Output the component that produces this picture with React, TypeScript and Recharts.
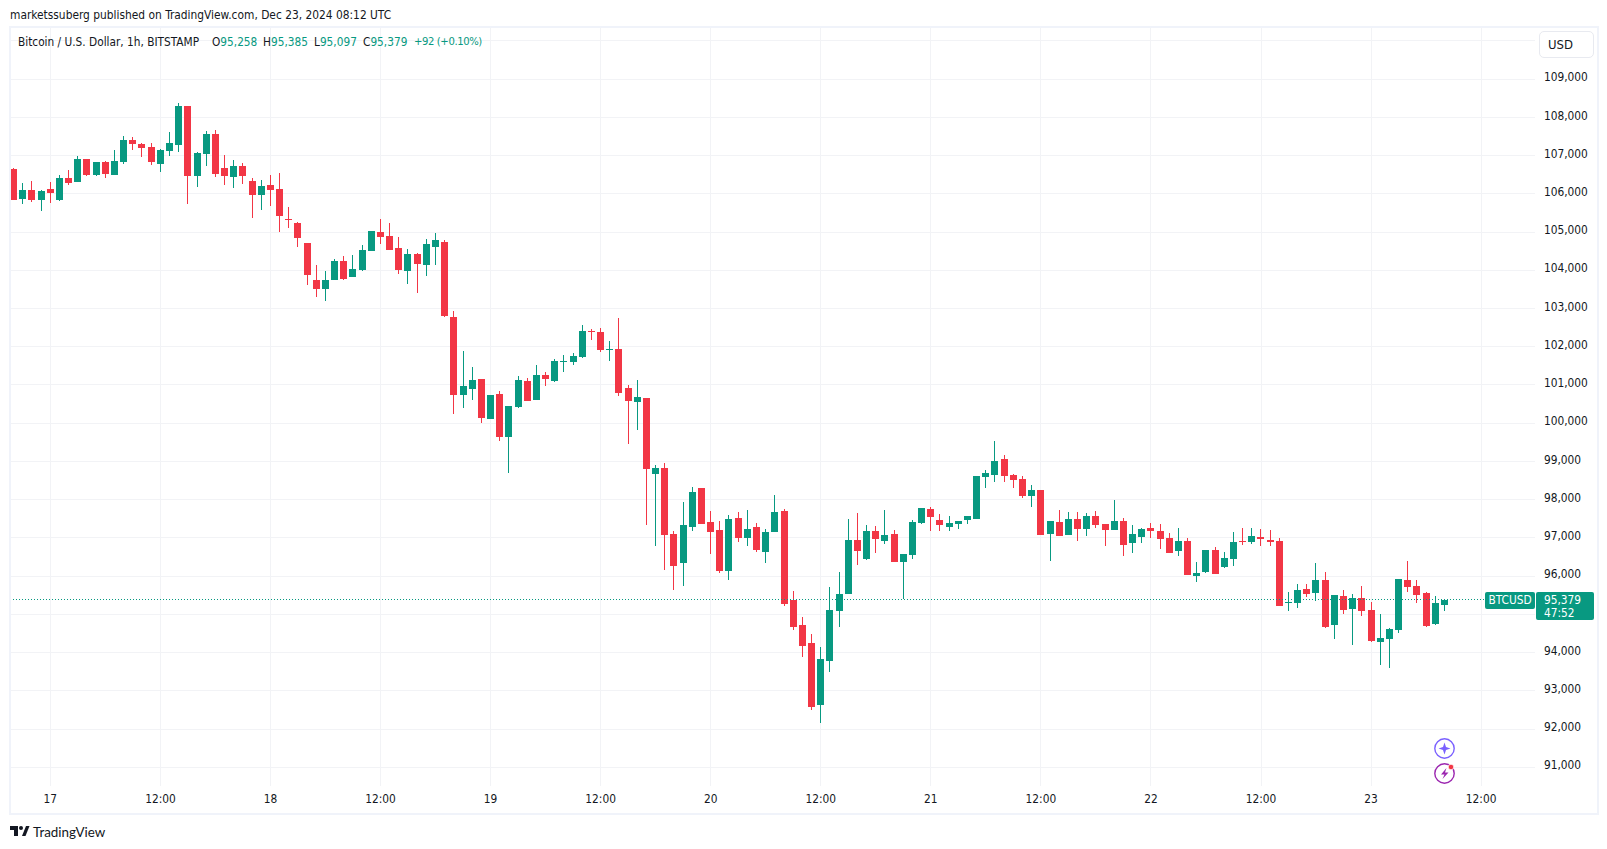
import { BarChart, Bar, XAxis, YAxis, CartesianGrid, ReferenceLine } from 'recharts'

const opens = [
  106650, 105864, 106099, 105837, 106125, 105837, 106413, 106308, 106910, 106491,
  106832, 106491, 106832, 107407, 107302, 107224, 106779, 107119, 107276, 108296,
  106465, 107041, 107564, 106675, 106439, 106727, 106334, 105968, 106230, 106125,
  105340, 105240, 104721, 103753, 103518, 103753, 104250, 103832, 104015, 104512,
  105009, 104904, 104590, 103988, 104433, 104145, 104616, 104747, 102785, 100745,
  100902, 101163, 100117, 100771, 99640, 100425, 101099, 100602, 101256, 101099,
  101596, 101596, 101727, 102407, 102381, 101910, 101936, 100916, 100550, 100654,
  98666, 98823, 97097, 96338, 97280, 98300, 97410, 97201, 96129, 97515,
  96992, 97280, 96622, 97145, 97695, 95367, 94713, 94242, 92620, 93771,
  95079, 95524, 96936, 96439, 97172, 96910, 97093, 96361, 96544, 97381,
  97747, 97459, 97276, 97355, 97459, 97486, 98590, 98642, 99061, 98642,
  98538, 98093, 98250, 97099, 97413, 97073, 97491, 97230, 97570, 97361,
  97204, 97439, 96864, 97021, 97256, 97178, 96994, 96654, 96916, 96015,
  96119, 96695, 96250, 96459, 96930, 96904, 97035, 96956, 96930, 95317,
  95308, 95675, 95570, 95910, 94733, 95491, 95151, 95439, 95125, 94288,
  94367, 94602, 95910, 95753, 95570, 94750, 95258,
]
const highs = [
  106675, 106282, 106334, 106099, 106308, 106491, 106622, 106988, 106910, 106832,
  106858, 107145, 107512, 107486, 107329, 107329, 107172, 107616, 108375, 108296,
  107093, 107642, 107669, 107015, 106884, 106805, 106413, 106361, 106491, 106544,
  105654, 105262, 104721, 104145, 103988, 104302, 104381, 104407, 104669, 105035,
  105349, 105244, 104878, 104564, 104459, 104826, 104983, 104799, 102942, 101896,
  101477, 101163, 100745, 100849, 100457, 101235, 101178, 101518, 101334, 101675,
  101779, 101832, 102564, 102459, 102485, 102145, 102747, 100994, 101125, 100654,
  98902, 98954, 97175, 97934, 98326, 98300, 97698, 97437, 97594, 97672,
  97724, 97384, 97224, 98113, 97747, 95602, 94922, 94477, 94137, 95707,
  96099, 97486, 97642, 97329, 97302, 97721, 97198, 96570, 97459, 97773,
  97799, 97616, 97564, 97433, 97564, 98610, 98773, 99532, 99166, 98669,
  98616, 98381, 98250, 97439, 97727, 97675, 97675, 97648, 97701, 97361,
  97988, 97518, 97334, 97256, 97387, 97361, 97125, 97256, 96994, 96381,
  96695, 96773, 96642, 97166, 97270, 97270, 97244, 97218, 97009, 95596,
  95805, 95805, 96355, 96119, 95518, 95648, 95544, 95753, 95334, 95021,
  94654, 95936, 96407, 95910, 95596, 95477, 95385,
]
const lows = [
  105835, 105733, 105785, 105550, 105759, 105811, 106230, 106308, 106465, 106465,
  106413, 106491, 106779, 107145, 106962, 106753, 106570, 106988, 107093, 105733,
  106178, 106727, 106439, 106230, 106151, 106256, 105367, 105576, 105680, 105000,
  105105, 104608, 103622, 103308, 103204, 103753, 103753, 103832, 103988, 104512,
  104695, 104538, 103910, 103648, 103413, 103858, 104145, 102785, 100248, 100405,
  100614, 100012, 100117, 99541, 98692, 100395, 100576, 100602, 100968, 101073,
  101334, 101518, 101701, 102172, 101858, 101622, 100707, 99451, 99817, 97332,
  96783, 96155, 95632, 95736, 97175, 97358, 96573, 96076, 95893, 96887,
  96783, 96626, 96334, 97145, 95210, 94582, 93875, 92489, 92150, 93483,
  94660, 95524, 96282, 96413, 96596, 96832, 96361, 95393, 96439, 97355,
  97172, 97172, 97172, 97224, 97355, 97486, 98302, 98459, 98459, 98302,
  98041, 97805, 97073, 96393, 97047, 97073, 96916, 97047, 97256, 96785,
  97204, 96523, 96602, 96864, 96994, 96707, 96602, 96523, 96026, 95858,
  96093, 96067, 96224, 96276, 96826, 96852, 96799, 96799, 95230, 95099,
  95177, 95465, 95361, 94654, 94367, 95021, 94210, 94968, 94288, 93680,
  93600, 94523, 95596, 95308, 94680, 94720, 95097,
]
const closes = [
  105835, 106099, 105837, 106073, 106020, 106413, 106282, 106910, 106491, 106832,
  106518, 106858, 107407, 107302, 107198, 106832, 107145, 107329, 108296, 106465,
  107067, 107564, 106518, 106465, 106727, 106465, 105968, 106204, 106099, 105419,
  105314, 104843, 103884, 103518, 103753, 104250, 103779, 104041, 104538, 105035,
  104878, 104538, 104015, 104433, 104172, 104695, 104799, 102811, 100745, 100980,
  101137, 100143, 100745, 99646, 100450, 101130, 100576, 101256, 101151, 101622,
  101622, 101753, 102407, 102381, 101910, 101936, 100785, 100576, 100680, 98797,
  98823, 97070, 96259, 97332, 98195, 97358, 97149, 96129, 97489, 96992,
  97227, 96678, 97145, 97669, 95262, 94660, 94163, 92567, 93823, 95105,
  95524, 96936, 96648, 97172, 96962, 97067, 96361, 96570, 97407, 97773,
  97538, 97329, 97381, 97433, 97564, 98610, 98695, 99009, 98616, 98512,
  98093, 98250, 97073, 97439, 97047, 97491, 97230, 97570, 97334, 97204,
  97439, 96811, 97099, 97230, 97178, 96968, 96602, 96916, 96026, 96093,
  96695, 96067, 96486, 96904, 96912, 97061, 96983, 96904, 95230, 95334,
  95648, 95544, 95910, 94680, 95518, 95125, 95439, 95099, 94314, 94393,
  94628, 95936, 95727, 95518, 94707, 95294, 95379,
]

const timeTicks = [4, 16, 28, 40, 52, 64, 76, 88, 100, 112, 124, 136, 148, 160]
const timeLabels = ['17', '12:00', '18', '12:00', '19', '12:00', '20', '12:00', '21', '12:00', '22', '12:00', '23', '12:00']
const priceTicks = [
  91000, 92000, 93000, 94000, 95000, 96000, 97000, 98000, 99000, 100000,
  101000, 102000, 103000, 104000, 105000, 106000, 107000, 108000, 109000, 110000,
]
// these two labels sit under the USD button and the last price tag
const hiddenPriceLabels = [95000, 110000]
const lastPrice = 95379

const candles = opens.map((open, i) => ({
  hour: i,
  open,
  high: highs[i],
  low: lows[i],
  close: closes[i],
}))

const UP = '#089981'
const DOWN = '#F23645'
const TEXT = '#131722'
const GRID = '#f2f3f6'
const FONT = "'DejaVu Sans Condensed', 'DejaVu Sans', sans-serif"

function Candle(props: any) {
  const { x, y, width, height, payload } = props
  const { open, high, low, close } = payload
  const color = close >= open ? UP : DOWN
  const perPrice = height / (high - low || 1)
  const top = Math.round(y + (high - Math.max(open, close)) * perPrice)
  const bottom = Math.round(y + (high - Math.min(open, close)) * perPrice)
  const px = Math.floor(x + width / 2)
  return (
    <g shapeRendering="crispEdges">
      <rect x={px} y={Math.round(y)} width={1} height={Math.max(1, Math.round(height))} fill={color} />
      <rect x={px - 3} y={top} width={7} height={Math.max(1, bottom - top)} fill={color} />
    </g>
  )
}

function Label(p: { x: number; y: number; color?: string; size?: number; spacing?: number; leading?: number; children: any }) {
  return (
    <div
      style={{
        position: 'absolute',
        left: p.x,
        top: p.y,
        color: p.color || TEXT,
        fontSize: p.size || 11.75,
        letterSpacing: p.spacing || 0,
        lineHeight: `${p.leading || 16}px`,
        whiteSpace: 'nowrap',
      }}
    >
      {p.children}
    </div>
  )
}

export default function App() {
  return (
    <div
      style={{
        position: 'absolute',
        left: 0,
        top: 0,
        width: 1607,
        height: 849,
        background: '#fff',
        fontFamily: FONT,
        fontStretch: 'condensed',
      }}
    >
      {/* frame around the chart */}
      <div style={{ position: 'absolute', left: 9, top: 26, width: 1586, height: 785, border: '2px solid #f0f3fa' }} />

      <BarChart
        width={1607}
        height={849}
        data={candles}
        margin={{ top: 28, right: 10, bottom: 33, left: 11 }}
        style={{ position: 'absolute', left: 0, top: 0 }}
      >
        <CartesianGrid
          stroke={GRID}
          shapeRendering="crispEdges"
          verticalValues={timeTicks}
          horizontalValues={priceTicks}
        />
        <XAxis
          dataKey="hour"
          type="number"
          scale="linear"
          domain={[-0.292, 165.87]}
          allowDataOverflow
          ticks={timeTicks}
          interval={0}
          tickFormatter={(v: number) => timeLabels[timeTicks.indexOf(v)]}
          axisLine={false}
          tickLine={false}
          tickSize={0}
          tickMargin={9}
          height={30}
          tick={{ fontSize: 11.8, fill: TEXT, fontFamily: FONT }}
        />
        <YAxis
          orientation="right"
          type="number"
          domain={[90511, 110336]}
          allowDataOverflow
          ticks={priceTicks}
          interval={0}
          tickFormatter={(v: number) => (hiddenPriceLabels.includes(v) ? '' : v.toLocaleString('en-US'))}
          axisLine={false}
          tickLine={false}
          tickSize={0}
          tickMargin={9}
          width={62}
          tick={{ fontSize: 11.8, fill: TEXT, fontFamily: FONT, textAnchor: 'start', dy: -2 }}
        />
        <ReferenceLine y={lastPrice} stroke={UP} strokeDasharray="1 2" shapeRendering="crispEdges" />
        <Bar
          dataKey={(d: any) => [d.low, d.high]}
          barSize={7}
          shape={<Candle />}
          isAnimationActive={false}
        />
      </BarChart>

      <Label x={10} y={7} size={11.85}>marketssuberg published on TradingView.com, Dec 23, 2024 08:12 UTC</Label>
      <Label x={18} y={34}>Bitcoin / U.S. Dollar, 1h, BITSTAMP</Label>
      <Label x={212} y={34}>O<span style={{ color: UP }}>95,258</span></Label>
      <Label x={263} y={34}>H<span style={{ color: UP }}>95,385</span></Label>
      <Label x={314} y={34}>L<span style={{ color: UP }}>95,097</span></Label>
      <Label x={363} y={34}>C<span style={{ color: UP }}>95,379</span></Label>
      <Label x={414} y={34} color={UP} size={11.2} spacing={-0.4}>+92 (+0.10%)</Label>

      {/* currency button */}
      <div
        style={{
          position: 'absolute',
          left: 1539,
          top: 31,
          width: 45,
          height: 25,
          paddingLeft: 8,
          border: '1px solid #e8eaf0',
          borderRadius: 5,
          background: '#fff',
          color: TEXT,
          fontSize: 13,
          lineHeight: '25px',
        }}
      >
        USD
      </div>

      {/* last price tags */}
      <div
        style={{
          position: 'absolute',
          left: 1485,
          top: 592,
          width: 50,
          height: 17,
          background: UP,
          borderRadius: 2,
          color: '#fff',
          fontSize: 11.8,
          lineHeight: '17px',
          textAlign: 'center',
        }}
      >
        BTCUSD
      </div>
      <div
        style={{
          position: 'absolute',
          left: 1536,
          top: 592,
          width: 58,
          height: 28,
          background: UP,
          borderRadius: 2,
        }}
      />
      <Label x={1544} y={593} color="#fff" size={11.8} leading={14}>95,379</Label>
      <Label x={1544} y={607} color="#fff" size={11.8} leading={13}>47:52</Label>

      {/* sparkle and bolt badges */}
      <svg style={{ position: 'absolute', left: 1432, top: 736 }} width={26} height={50}>
        <circle cx={12.5} cy={12.5} r={9.7} fill="#fff" stroke="#7b61ff" strokeWidth={1.4} />
        <path d="M12.5 6.5 L14 11 L18.5 12.5 L14 14 L12.5 18.5 L11 14 L6.5 12.5 L11 11 Z" fill="#7b61ff" />
        <circle cx={12.5} cy={37.5} r={9.7} fill="#fff" stroke="#9c27b0" strokeWidth={1.4} />
        <path d="M14.5 32 L9 38.5 L12.5 38.5 L10.5 43 L16.5 36.5 L13 36.5 Z" fill="#9c27b0" />
        <circle cx={19} cy={31} r={2.8} fill="#f23645" stroke="#fff" strokeWidth={0.8} />
      </svg>

      {/* TradingView mark */}
      <svg style={{ position: 'absolute', left: 10, top: 826 }} width={20} height={11}>
        <path d="M0 0 H8 V10 H4 V4 H0 Z" fill={TEXT} />
        <circle cx={11} cy={2} r={2} fill={TEXT} />
        <path d="M12 10 L16 0 H19.5 L15.5 10 Z" fill={TEXT} />
      </svg>
      <div
        style={{
          position: 'absolute',
          left: 33,
          top: 823,
          color: TEXT,
          fontFamily: 'Lato, sans-serif',
          fontSize: 13.4,
          lineHeight: '18px',
        }}
      >
        TradingView
      </div>
    </div>
  )
}
